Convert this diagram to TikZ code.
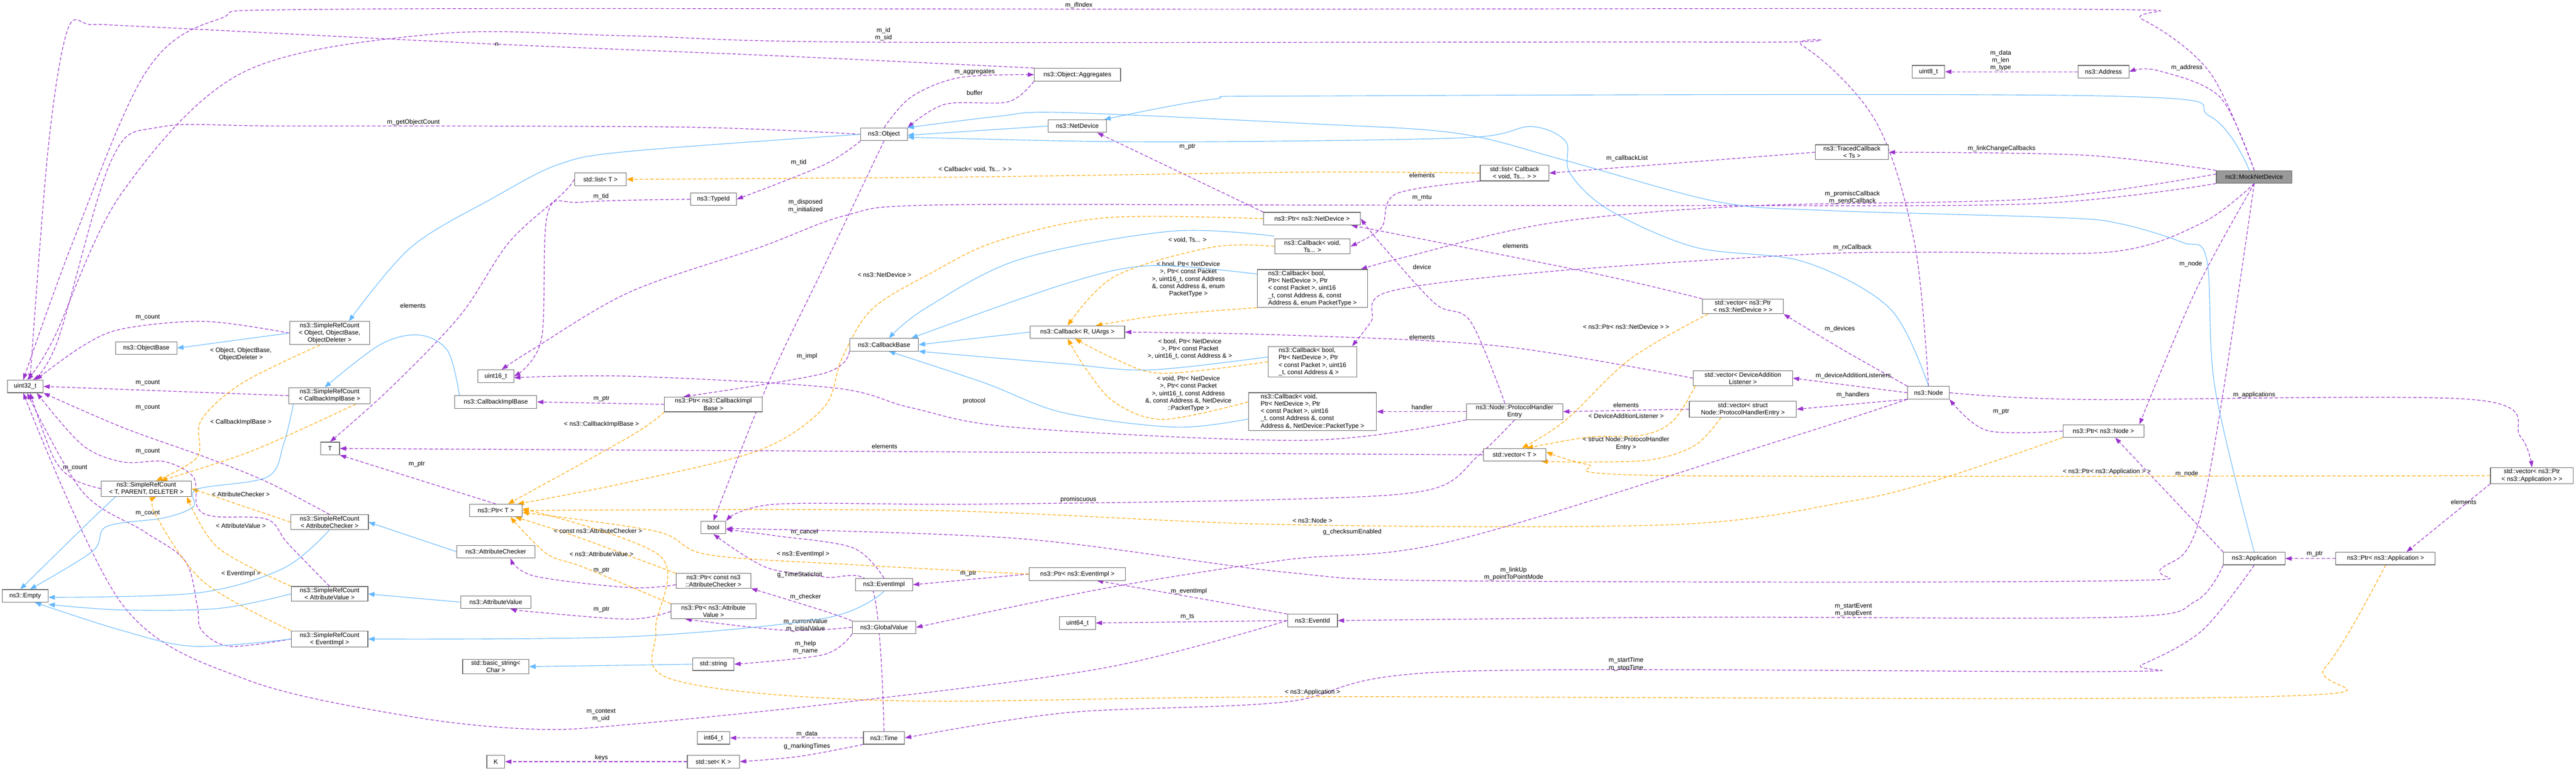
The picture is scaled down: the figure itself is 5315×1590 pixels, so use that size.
\documentclass[tikz,border=0pt]{standalone}
\usepackage{fontspec}
\setmainfont{Liberation Sans}
\usetikzlibrary{arrows.meta}
\definecolor{pcol}{HTML}{9A32CD}
\definecolor{bcol}{HTML}{63B8FF}
\definecolor{ocol}{HTML}{FFA500}
\definecolor{gcol}{HTML}{666666}
\pgfdeclarelayer{bg}
\pgfsetlayers{bg,main}
\newcommand\lbf{\fontsize{13}{15}\selectfont}
\tikzset{
 box/.style={draw=gcol,line width=1.2pt,fill=white,inner sep=3pt,minimum height=26pt,align=center,font=\lbf},
 pu/.style={draw=pcol,dash pattern=on 7pt off 4pt,line width=1.3pt,-{Triangle[length=13pt,width=9pt]}},
 bl/.style={draw=bcol,line width=1.2pt,-{Triangle[length=13pt,width=10pt]}},
 og/.style={draw=ocol,dash pattern=on 7pt off 4pt,line width=1.3pt,-{Triangle[length=13pt,width=10pt]}},
 lbl/.style={font=\lbf,align=center,inner sep=1pt},
 sm/.style={smooth,tension=0.55},
}
\begin{document}
\begin{tikzpicture}[x=1pt,y=-1pt]
\useasboundingbox (0,0) rectangle (5315,1590);
% nodes
\node[box,fill=gray!80,minimum width=156pt] (mock) at (4651,365) {ns3::MockNetDevice};
\node[box,minimum width=120pt] (netdev) at (2223,260) {ns3::NetDevice};
\node[box,minimum width=96pt] (object) at (1824,277) {ns3::Object};
\node[box,minimum width=178pt] (aggr) at (2223,154) {ns3::Object::Aggregates};
\node[box,minimum width=95pt] (typeid) at (1472,411) {ns3::TypeId};
\node[box,minimum width=165pt] (srcobj) at (680,687) {ns3::SimpleRefCount\\{}< Object, ObjectBase,\\ObjectDeleter >};
\node[box,minimum width=126pt] (objbase) at (302,718) {ns3::ObjectBase};
\node[box,minimum width=74pt] (uint32) at (52,797) {uint32\_t};
\node[box,minimum width=74pt] (uint16) at (1023,776) {uint16\_t};
\node[box,minimum width=107pt] (stdlistT) at (1239,370) {std::list< T >};
\node[box,minimum width=168pt] (srccib) at (680,816) {ns3::SimpleRefCount\\{}< CallbackImplBase >};
\node[box,minimum width=169pt] (cib) at (1023,829) {ns3::CallbackImplBase};
\node[box,minimum width=39pt] (T) at (681,925) {T};
\node[box,minimum width=186pt] (srctpd) at (302,1008) {ns3::SimpleRefCount\\{}< T, PARENT, DELETER >};
\node[box,minimum width=109pt] (ptrT) at (1023,1053) {ns3::Ptr< T >};
\node[box,minimum width=160pt] (srcac) at (680,1077) {ns3::SimpleRefCount\\{}< AttributeChecker >};
\node[box,minimum width=161pt] (ac) at (1023,1138) {ns3::AttributeChecker};
\node[box,minimum width=95pt] (empty) at (52,1229) {ns3::Empty};
\node[box,minimum width=158pt] (srcav) at (680,1225) {ns3::SimpleRefCount\\{}< AttributeValue >};
\node[box,minimum width=145pt] (av) at (1023,1242) {ns3::AttributeValue};
\node[box,minimum width=158pt] (srcev) at (680,1318) {ns3::SimpleRefCount\\{}< EventImpl >};
\node[box,minimum width=137pt] (bstr) at (1023,1375) {std::basic\_string<\\Char >};
\node[box,minimum width=37pt] (K) at (1023,1571) {K};
\node[box,minimum width=202pt] (ptrcib) at (1472,834) {ns3::Ptr< ns3::CallbackImpl\\Base >};
\node[box,minimum width=51pt] (bool) at (1472,1088) {bool};
\node[box,minimum width=154pt] (ptrcac) at (1472,1198) {ns3::Ptr< const ns3\\::AttributeChecker >};
\node[box,minimum width=175pt] (ptrav) at (1472,1261) {ns3::Ptr< ns3::Attribute\\Value >};
\node[box,minimum width=85pt] (string) at (1472,1370) {std::string};
\node[box,minimum width=67pt] (int64) at (1472,1522) {int64\_t};
\node[box,minimum width=108pt] (setK) at (1472,1571) {std::set< K >};
\node[box,minimum width=118pt] (evimpl) at (1824,1206) {ns3::EventImpl};
\node[box,minimum width=131pt] (gval) at (1824,1294) {ns3::GlobalValue};
\node[box,minimum width=85pt] (time) at (1824,1522) {ns3::Time};
\node[box,minimum width=142pt] (cbase) at (1824,711) {ns3::CallbackBase};
\node[box,minimum width=195pt] (cbRU) at (2223,685) {ns3::Callback< R, UArgs >};
\node[box,minimum width=199pt] (ptrev) at (2223,1184) {ns3::Ptr< ns3::EventImpl >};
\node[box,minimum width=74pt] (uint64) at (2223,1285) {uint64\_t};
\node[box,minimum width=200pt] (ptrnd) at (2707,451) {ns3::Ptr< ns3::NetDevice >};
\node[box,minimum width=156pt] (cbvoid) at (2708,508) {ns3::Callback< void,\\Ts... >};
\node[box,minimum width=228pt,align=left] (cbbool1) at (2708,595) {ns3::Callback< bool,\\ Ptr< NetDevice >, Ptr\\< const Packet >, uint16\\\_t, const Address \&, const\\ Address \&, enum PacketType >};
\node[box,minimum width=182pt,align=left] (cbbool2) at (2708,746) {ns3::Callback< bool,\\ Ptr< NetDevice >, Ptr\\< const Packet >, uint16\\\_t, const Address \& >};
\node[box,minimum width=264pt,align=left] (cbvoid2) at (2708,849) {ns3::Callback< void,\\ Ptr< NetDevice >, Ptr\\< const Packet >, uint16\\\_t, const Address \&, const\\ Address \&, NetDevice::PacketType >};
\node[box,minimum width=142pt] (stdlistcb) at (3125,357) {std::list< Callback\\< void, Ts... > >};
\node[box,minimum width=199pt] (phe) at (3125,849) {ns3::Node::ProtocolHandler\\Entry};
\node[box,minimum width=129pt] (vecT) at (3125,938) {std::vector< T >};
\node[box,minimum width=103pt] (evid) at (2708,1280) {ns3::EventId};
\node[box,minimum width=151pt] (traced) at (3821,314) {ns3::TracedCallback\\{}< Ts >};
\node[box,minimum width=167pt] (vecnd) at (3596,632) {std::vector< ns3::Ptr\\{}< ns3::NetDevice > >};
\node[box,minimum width=205pt] (vecdal) at (3596,780) {std::vector< DeviceAddition\\Listener >};
\node[box,minimum width=221pt] (vecphe) at (3596,844) {std::vector< struct\\ Node::ProtocolHandlerEntry >};
\node[box,minimum width=86pt] (node) at (3979,810) {ns3::Node};
\node[box,minimum width=67pt] (uint8) at (3979,148) {uint8\_t};
\node[box,minimum width=105pt] (address) at (4340,148) {ns3::Address};
\node[box,minimum width=167pt] (ptrnode) at (4340,889) {ns3::Ptr< ns3::Node >};
\node[box,minimum width=171pt] (vecapp) at (5224,981) {std::vector< ns3::Ptr\\{}< ns3::Application > >};
\node[box,minimum width=127pt] (app) at (4651,1152) {ns3::Application};
\node[box,minimum width=205pt] (ptrapp) at (4922,1152) {ns3::Ptr< ns3::Application >};

\begin{pgfonlayer}{bg}
% purple usage
\draw[pu] plot[sm] coordinates {(mock.north) (4560,150) (4420,40) (4300,19) (2500,19) (700,19) (450,40) (300,150) (150,500) ([xshift=-4pt]uint32.north)} node[lbl,at={(2226,11)}] {m\_ifIndex};
\draw[pu] plot[sm] coordinates {(node.north) (3950,500) (3870,250) (3720,95) (3600,87) (1800,87) (1300,74) (900,70) (500,150) (250,400) (110,700) ([xshift=4pt]uint32.north)} node[lbl,at={(1823,70)}] {m\_id\\m\_sid};
\draw[pu] plot[sm] coordinates {(aggr.north west) (1600,115) (1000,90) (300,55) (190,51) (140,60) (100,300) ([xshift=10pt]uint32.north)} node[lbl,at={(1025,92)}] {n};
\draw[pu] plot[sm] coordinates {(object.west) (1400,262) (600,260) (330,262) (230,330) (120,700) ([xshift=16pt]uint32.north)} node[lbl,at={(853,252)}] {m\_getObjectCount};
\draw[pu] plot[sm] coordinates {(srcobj.west) (424,663) (254,678) (170,714) ([xshift=22pt]uint32.north)} node[lbl,at={(305,655)}] {m\_count};
\draw[pu] (srccib.west) -- (uint32.east) node[lbl,at={(305,790)}] {m\_count};
\draw[pu] plot[sm] coordinates {(srcac.north) (551,994) (424,943) (254,882) (uint32.south east)} node[lbl,at={(305,841)}] {m\_count};
\draw[pu] plot[sm] coordinates {(srctpd.west) (153,989) (110,943) ([xshift=10pt]uint32.south)} node[lbl,at={(155,965)}] {m\_count};
\draw[pu] plot[sm] coordinates {(srcav.north) (594,1121) (551,1071) (441,1065) (407,1045) (399,984) (339,952) (254,953) (170,918) ([xshift=24pt]uint32.south)} node[lbl,at={(305,931)}] {m\_count};
\draw[pu] plot[sm] coordinates {(srcev.west) (475,1333) (416,1300) (407,1249) (382,1157) (297,1096) (170,1014) ([xshift=4pt]uint32.south)} node[lbl,at={(305,1059)}] {m\_count};
\draw[pu] plot[sm] coordinates {(evid.west) (2282,1377) (1746,1448) (1300,1494) (1102,1504) (848,1478) (509,1402) (254,1249) ([xshift=-4pt]uint32.south)} node[lbl,at={(1240,1475)}] {m\_context\\m\_uid};
\draw[pu] plot[sm] coordinates {(object.south west) (1700,340) (typeid.east)} node[lbl,at={(1648,335)}] {m\_tid};
\draw[pu] plot[sm] coordinates {(typeid.west) (1200,417) (1130,440) (1117,700) (uint16.east)} node[lbl,at={(1240,405)}] {m\_tid};
\draw[pu] plot[sm] coordinates {(stdlistT.west) (1160,400) (1050,500) (950,650) (806,800) (T.north)} node[lbl,at={(852,631)}] {elements};
\draw[pu] plot[sm] coordinates {(mock.south west) (4200,420) (3500,424) (2700,423) (1925,423) (1746,444) (1568,510) (1300,602) (1100,720) ([xshift=12pt]uint16.north)} node[lbl,at={(2934,408)}] {m\_mtu};
\draw[pu] plot[sm] coordinates {(phe.south west) (2700,908) (2100,882) (1880,841) (1720,800) (1300,776) ([yshift=-3pt]uint16.east)} node[lbl,at={(2010,827)}] {protocol};
\draw[pu] plot[sm] coordinates {(object.south) (1700,550) (1585,790) (bool.north)} node[lbl,at={(1662,425)}] {m\_disposed\\m\_initialized};
\draw[pu] plot[sm] coordinates {(cbase.south west) (1700,770) ([xshift=40pt]ptrcib.north west)} node[lbl,at={(1665,735)}] {m\_impl};
\draw[pu] (ptrcib.west) -- (cib.east) node[lbl,at={(1241,823)}] {m\_ptr};
\draw[pu] (ptrT.north) -- (T.south east) node[lbl,at={(860,958)}] {m\_ptr};
\draw[pu] plot[sm] coordinates {([yshift=-8pt]ptrcac.west) (1300,1212) (1102,1188) ([xshift=30pt]ac.south)} node[lbl,at={(1241,1176)}] {m\_ptr};
\draw[pu] plot[sm] coordinates {(ptrav.west) (1300,1277) (1100,1262) ([xshift=30pt]av.south)} node[lbl,at={(1241,1257)}] {m\_ptr};
\draw[pu] plot[sm] coordinates {(gval.north west) (1700,1260) (ptrcac.south east)} node[lbl,at={(1662,1231)}] {m\_checker};
\draw[pu] plot[sm] coordinates {(gval.west) (1620,1300) ([xshift=30pt]ptrav.south west)} node[lbl,at={(1662,1290)}] {m\_currentValue\\m\_initialValue};
\draw[pu] plot[sm] coordinates {(gval.south west) (1700,1350) (string.east)} node[lbl,at={(1662,1335)}] {m\_help\\m\_name};
\draw[pu] plot[sm] coordinates {(time.north) (1800,1215) (1700,1190) (1580,1170) (bool.south)} node[lbl,at={(1650,1186)}] {g\_TimeStaticInit};
\draw[pu] plot[sm] coordinates {(evimpl.north) (1760,1130) (1600,1105) ([yshift=-4pt]bool.east)} node[lbl,at={(1660,1097)}] {m\_cancel};
\draw[pu] (ptrev.west) -- (evimpl.east) node[lbl,at={(1998,1183)}] {m\_ptr};
\draw[pu] plot[sm] coordinates {(evid.north west) (2450,1230) ([xshift=40pt]ptrev.south)} node[lbl,at={(2453,1220)}] {m\_eventImpl};
\draw[pu] (evid.west) -- (uint64.east) node[lbl,at={(2450,1272)}] {m\_ts};
\draw[pu] (time.west) -- (int64.east) node[lbl,at={(1665,1514)}] {m\_data};
\draw[pu] plot[sm] coordinates {(time.south west) (1650,1560) (setK.east)} node[lbl,at={(1665,1540)}] {g\_markingTimes};
\draw[pu] (setK.west) -- (K.east) node[lbl,at={(1241,1563)}] {keys};
\draw[pu] plot[sm] coordinates {(node.south west) (3700,900) (3000,1115) (2650,1155) (2282,1213) (gval.east)} node[lbl,at={(2790,1097)}] {g\_checksumEnabled};
\draw[pu] plot[sm] coordinates {(phe.south) (3050,940) (2950,1010) (2650,1030) (2000,1040) (1600,1040) (bool.north east)} node[lbl,at={(2225,1030)}] {promiscuous};
\draw[pu] plot[sm] coordinates {(mock.south) (4545,1045) (4460,1172) (4350,1198) (3007,1198) (2650,1180) (2104,1111) ([yshift=-2pt]bool.east)} node[lbl,at={(3123,1183)}] {m\_linkUp\\m\_pointToPointMode};
\draw[pu] plot[sm] coordinates {(app.south west) (4530,1240) (4370,1273) (3500,1273) (evid.east)} node[lbl,at={(3824,1258)}] {m\_startEvent\\m\_stopEvent};
\draw[pu] plot[sm] coordinates {(app.south) (4544,1300) (4419,1371) (4352,1385) (3000,1385) (2650,1448) (2200,1470) (time.east)} node[lbl,at={(3355,1370)}] {m\_startTime\\m\_stopTime};
\draw[pu] plot[sm] coordinates {(object.north) (1880,200) (1980,160) (aggr.west)} node[lbl,at={(2011,149)}] {m\_aggregates};
\draw[pu] plot[sm] coordinates {(aggr.south west) (2080,210) (1950,215) (object.north east)} node[lbl,at={(2011,192)}] {buffer};
\draw[pu] (ptrnd.north west) -- ([xshift=-20pt]netdev.south east) node[lbl,at={(2450,303)}] {m\_ptr};
\draw[pu] plot[sm] coordinates {(stdlistcb.south west) (2880,400) (2850,470) (cbvoid.east)} node[lbl,at={(2934,362)}] {elements};
\draw[pu] (traced.west) -- (stdlistcb.east) node[lbl,at={(3357,327)}] {m\_callbackList};
\draw[pu] plot[sm] coordinates {(mock.north west) (4300,320) (traced.east)} node[lbl,at={(4130,307)}] {m\_linkChangeCallbacks};
\draw[pu] plot[sm] coordinates {([yshift=6pt]mock.west) (4200,410) (3600,425) (3200,460) (2900,530) ([xshift=-15pt]cbbool1.north east)} node[lbl,at={(3822,407)}] {m\_promiscCallback\\m\_sendCallback};
\draw[pu] plot[sm] coordinates {(mock.south) (4545,459) (4361,519) (4000,520) (3721,525) (3186,561) (2864,602) (2829,663) ([xshift=-10pt]cbbool2.north east)} node[lbl,at={(3822,511)}] {m\_rxCallback};
\draw[pu] plot[sm] coordinates {(mock.north) (4580,200) (4450,145) (address.east)} node[lbl,at={(4512,140)}] {m\_address};
\draw[pu] (address.west) -- (uint8.east) node[lbl,at={(4128,125)}] {m\_data\\m\_len\\m\_type};
\draw[pu] plot[sm] coordinates {(vecnd.north west) (3275,561) ([xshift=-20pt]ptrnd.south east)} node[lbl,at={(3127,507)}] {elements};
\draw[pu] plot[sm] coordinates {(node.north west) (3800,720) (vecnd.south east)} node[lbl,at={(3796,678)}] {m\_devices};
\draw[pu] (node.west) -- (vecdal.east) node[lbl,at={(3824,775)}] {m\_deviceAdditionListeners};
\draw[pu] (node.south west) -- (vecphe.east) node[lbl,at={(3823,815)}] {m\_handlers};
\draw[pu] (vecphe.west) -- (phe.east) node[lbl,at={(3355,836)}] {elements};
\draw[pu] (phe.west) -- (cbvoid2.east) node[lbl,at={(2934,840)}] {handler};
\draw[pu] plot[sm] coordinates {([xshift=-20pt]phe.north) (3034,663) (2962,627) (2855,510) (ptrnd.east)} node[lbl,at={(2934,551)}] {device};
\draw[pu] plot[sm] coordinates {(vecdal.west) (3096,714) (2650,691) (cbRU.east)} node[lbl,at={(2934,695)}] {elements};
\draw[pu] (vecT.west) -- (T.east) node[lbl,at={(1825,921)}] {elements};
\draw[pu] plot[sm] coordinates {(mock.south) (4530,600) ([xshift=-10pt]ptrnode.north east)} node[lbl,at={(4520,545)}] {m\_node};
\draw[pu] plot[sm] coordinates {(ptrnode.west) (4100,888) (node.south east)} node[lbl,at={(4129,849)}] {m\_ptr};
\draw[pu] (app.north west) -- ([xshift=-60pt]ptrnode.south east) node[lbl,at={(4512,977)}] {m\_node};
\draw[pu] plot[sm] coordinates {(node.east) (4300,824) (5100,824) (5200,900) (vecapp.north)} node[lbl,at={(4651,815)}] {m\_applications};
\draw[pu] (vecapp.south west) -- ([xshift=-60pt]ptrapp.north east) node[lbl,at={(5083,1036)}] {elements};
\draw[pu] (ptrapp.west) -- (app.east) node[lbl,at={(4776,1143)}] {m\_ptr};
% orange templates
\draw[og] plot[sm] coordinates {([xshift=-20pt]srcobj.south) (500,790) (415,867) (407,943) ([xshift=20pt]srctpd.north)} node[lbl,at={(497,731)}] {< Object, ObjectBase,\\ObjectDeleter >};
\draw[og] plot[sm] coordinates {([xshift=-30pt]srccib.south east) (520,930) ([xshift=30pt]srctpd.north)} node[lbl,at={(497,871)}] {< CallbackImplBase >};
\draw[og] (srcac.west) -- (srctpd.east) node[lbl,at={(497,1020)}] {< AttributeChecker >};
\draw[og] plot[sm] coordinates {(srcav.north west) (450,1130) ([xshift=-10pt]srctpd.south east)} node[lbl,at={(497,1084)}] {< AttributeValue >};
\draw[og] plot[sm] coordinates {(srcev.north west) (420,1200) (320,1060) ([xshift=20pt]srctpd.south)} node[lbl,at={(497,1183)}] {< EventImpl >};
\draw[og] plot[sm] coordinates {(stdlistcb.west) (2700,355) (2000,365) (stdlistT.east)} node[lbl,at={(2012,350)}] {< Callback< void, Ts... > >};
\draw[og] plot[sm] coordinates {(ptrnd.west) (2282,449) (2059,497) (1925,561) (1800,637) (1737,739) (1700,840) (1568,928) (1300,994) ([xshift=-10pt]ptrT.north east)} node[lbl,at={(1825,567)}] {< ns3::NetDevice >};
\draw[og] plot[sm] coordinates {(ptrcib.south west) (1300,900) ([xshift=-30pt]ptrT.north east)} node[lbl,at={(1241,875)}] {< ns3::CallbackImplBase >};
\draw[og] plot[sm] coordinates {(ptrcac.north west) (1187,1106) ([xshift=-15pt]ptrT.south east)} node[lbl,at={(1234,1095)}] {< const ns3::AttributeChecker >};
\draw[og] plot[sm] coordinates {(ptrav.north west) (1204,1170) (1128,1142) ([xshift=-25pt]ptrT.south east)} node[lbl,at={(1241,1143)}] {< ns3::AttributeValue >};
\draw[og] plot[sm] coordinates {(ptrev.west) (1764,1165) (1461,1144) (1354,1096) ([yshift=-4pt]ptrT.east)} node[lbl,at={(1657,1143)}] {< ns3::EventImpl >};
\draw[og] plot[sm] coordinates {(ptrnode.south west) (4000,989) (3811,1035) (3453,1082) (2650,1082) (1925,1053) (ptrT.east)} node[lbl,at={(2708,1074)}] {< ns3::Node >};
\draw[og] plot[sm] coordinates {(ptrapp.south) (4797,1377) (4671,1437) (2700,1437) (1836,1445) (1389,1402) (1353,1300) (1362,1147) ([yshift=4pt]ptrT.east)} node[lbl,at={(2708,1428)}] {< ns3::Application >};
\draw[og] plot[sm] coordinates {(vecapp.west) (3453,981) (3275,958) ([yshift=6pt]vecT.east)} node[lbl,at={(4347,973)}] {< ns3::Ptr< ns3::Application > >};
\draw[og] plot[sm] coordinates {([xshift=12pt]vecnd.south west) (3364,740) (3230,867) ([xshift=-50pt]vecT.north east)} node[lbl,at={(3355,674)}] {< ns3::Ptr< ns3::NetDevice > >};
\draw[og] plot[sm] coordinates {([xshift=5pt]vecdal.south west) (3453,867) (3391,897) (3275,902) ([xshift=-40pt]vecT.north east)} node[lbl,at={(3355,858)}] {< DeviceAdditionListener >};
\draw[og] plot[sm] coordinates {([xshift=-45pt]vecphe.south) (3498,918) (3409,948) (3275,953) ([xshift=-10pt]vecT.south east)} node[lbl,at={(3355,915)}] {< struct Node::ProtocolHandler\\Entry >};
\draw[og] plot[sm] coordinates {(cbvoid.west) (2500,510) (2300,570) ([xshift=-20pt]cbRU.north)} node[lbl,at={(2450,495)}] {< void, Ts... >};
\draw[og] plot[sm] coordinates {(cbbool1.south west) (2400,650) ([xshift=-60pt]cbRU.north east)} node[lbl,at={(2452,576)}] {< bool, Ptr< NetDevice\\>, Ptr< const Packet\\>, uint16\_t, const Address\\\&, const Address \&, enum\\PacketType >};
\draw[og] plot[sm] coordinates {(cbbool2.west) (2400,770) (2300,740) ([xshift=-5pt]cbRU.south)} node[lbl,at={(2455,720)}] {< bool, Ptr< NetDevice\\>, Ptr< const Packet\\>, uint16\_t, const Address \& >};
\draw[og] plot[sm] coordinates {([yshift=20pt]cbvoid2.west) (2400,865) (2300,830) (2240,760) ([xshift=-20pt]cbRU.south)} node[lbl,at={(2452,812)}] {< void, Ptr< NetDevice\\>, Ptr< const Packet\\>, uint16\_t, const Address\\\&, const Address \&, NetDevice\\::PacketType >};
% blue inheritance
\draw[bl] plot[sm] coordinates {([xshift=-10pt]mock.north) (4560,240) (4345,198) (2700,198) (2500,205) ([xshift=-5pt]netdev.north east)};
\draw[bl] (netdev.west) -- ([yshift=-2pt]object.east);
\draw[bl] plot[sm] coordinates {(node.north) (3900,637) (3722,540) (3498,510) (3320,433) (3239,357) (3230,291) (3159,261) (3043,283) (2650,291) (2282,292) ([yshift=-6pt]object.east)};
\draw[bl] plot[sm] coordinates {(app.north) (4570,800) (4553,535) (4503,500) (4377,462) (4252,449) (3766,434) (3543,416) (3230,331) (3007,275) (2700,255) (2193,232) (2059,240) (object.north east)};
\draw[bl] plot[sm] coordinates {(object.west) (1300,312) (1153,339) (1018,408) (848,510) ([xshift=40pt]srcobj.north)};
\draw[bl] (srcobj.west) -- (objbase.east);
\draw[bl] plot[sm] coordinates {([xshift=30pt]srctpd.south west) (180,1080) ([xshift=-10pt]empty.north)};
\draw[bl] plot[sm] coordinates {([xshift=10pt]srccib.south west) (585,917) (551,984) (407,1009) (399,1045) (339,1068) (220,1086) (191,1137) ([xshift=10pt]empty.north)};
\draw[bl] plot[sm] coordinates {(srcac.south) (585,1172) (407,1223) ([yshift=-3pt]empty.east)};
\draw[bl] plot[sm] coordinates {(srcav.west) (450,1255) (250,1258) ([yshift=-4pt]empty.south east)};
\draw[bl] plot[sm] coordinates {(srcev.west) (400,1333) (250,1300) ([xshift=20pt]empty.south)};
\draw[bl] (ac.west) -- (srcac.east);
\draw[bl] (av.west) -- (srcav.east);
\draw[bl] plot[sm] coordinates {(evimpl.south) (1702,1275) (1300,1313) (srcev.east)};
\draw[bl] (string.west) -- (bstr.east);
\draw[bl] plot[sm] coordinates {([xshift=10pt]cib.north west) (924,724) (865,691) (784,711) ([xshift=-10pt]srccib.north)};
\draw[bl] (cbRU.west) -- (cbase.east);
\draw[bl] plot[sm] coordinates {([yshift=5pt]cbvoid.north west) (2416,477) (2104,535) (1908,637) ([xshift=10pt]cbase.north)};
\draw[bl] plot[sm] coordinates {([yshift=-10pt]cbbool1.north west) (2372,548) (2193,587) ([xshift=-15pt]cbase.north east)};
\draw[bl] plot[sm] coordinates {([yshift=10pt]cbbool2.west) (2372,763) (2193,750) (cbase.south east)};
\draw[bl] plot[sm] coordinates {([yshift=-15pt]cbvoid2.west) (2425,881) (2193,851) (2032,790) ([xshift=10pt]cbase.south)};
\end{pgfonlayer}
\end{tikzpicture}
\end{document}
